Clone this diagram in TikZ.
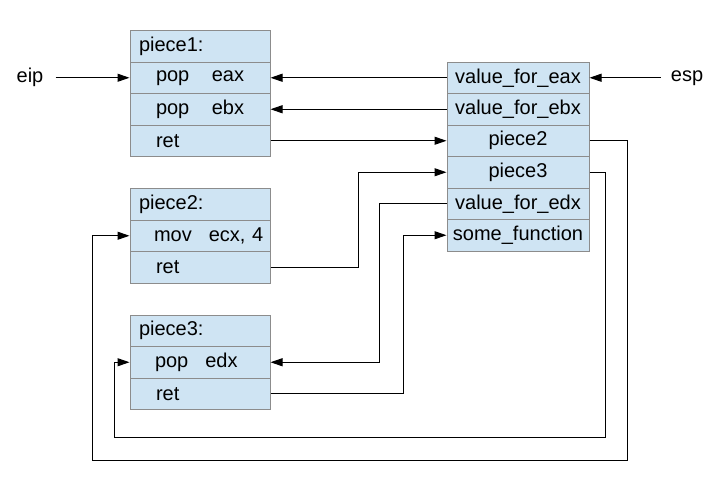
\documentclass[tikz,border=0pt]{standalone}
\usepackage{fontspec}
\setmainfont{Liberation Sans}
\usetikzlibrary{arrows.meta}
\definecolor{cellfill}{RGB}{207,228,243}
\definecolor{cellline}{RGB}{140,140,140}
\tikzset{
  cell/.style={draw=cellline, fill=cellfill, line width=1pt, rectangle,
    minimum height=31.5pt, text width=122pt, inner xsep=9pt, inner ysep=0pt,
    align=left, font=\fontsize{20}{24}\selectfont},
  scell/.style={draw=cellline, fill=cellfill, line width=1pt, rectangle,
    minimum height=31.5pt, minimum width=142pt, inner sep=0pt,
    align=center, font=\fontsize{20}{24}\selectfont},
  lbl/.style={font=\fontsize{20}{24}\selectfont, inner sep=0pt},
  arr/.style={line width=1pt, -{Triangle[length=12pt,width=8pt]}},
  ln/.style={line width=1pt}
}
\begin{document}
\begin{tikzpicture}[x=1pt,y=-1pt]
\useasboundingbox (0,0) rectangle (720,490);
% piece1 block
\node[cell] (p1h) at (200,46.25) {piece1:};
\node[cell] (p1a) at (200,77.75) {\hspace{17pt}pop\hspace{22.5pt}eax};
\node[cell] (p1b) at (200,109.25) {\hspace{17pt}pop\hspace{22.5pt}ebx};
\node[cell] (p1c) at (200,140.75) {\hspace{17pt}ret};
% piece2 block
\node[cell] (p2h) at (200,204.25) {piece2:};
\node[cell] (p2a) at (200,235.75) {\rlap{\hspace{15pt}mov\hspace{17pt}ecx, 4}};
\node[cell] (p2b) at (200,267.25) {\hspace{17pt}ret};
% piece3 block
\node[cell] (p3h) at (200,330.75) {piece3:};
\node[cell] (p3a) at (200,362.25) {\hspace{16pt}pop\hspace{17pt}edx};
\node[cell] (p3b) at (200,393.75) {\hspace{17pt}ret};
% stack
\node[scell] (seax) at (518,77.75) {value\_for\_eax};
\node[scell] (sebx) at (518,109.25) {value\_for\_ebx};
\node[scell] (sp2) at (518,140.75) {piece2};
\node[scell] (sp3) at (518,172.25) {piece3};
\node[scell] (sedx) at (518,203.75) {value\_for\_edx};
\node[scell] (sfun) at (518,235.25) {some\_function};
% labels
\node[lbl] (eip) at (30,77.75) {eip};
\node[lbl] (esp) at (687,77.75) {esp};
% connectors
\draw[arr, shorten <=12pt] (eip.east) -- (p1a.west);
\draw[arr, shorten <=10pt] (esp.west) -- (seax.east);
\draw[arr] (seax.west) -- (p1a.east);
\draw[arr] (sebx.west) -- (p1b.east);
\draw[arr] (p1c.east) -- (sp2.west);
\draw[arr] (p2b.east) -- ++(88,0) |- (sp3.west);
\draw[arr] (sedx.west) -- ++(-67,0) |- (p3a.east);
\draw[arr] (p3b.east) -- ++(133,0) |- (sfun.west);
\draw[arr] (sp2.east) -| (627,460) -| ([xshift=-37pt]p2a.west) -- (p2a.west);
\draw[arr] (sp3.east) -| (605,437) -| ([xshift=-15pt]p3a.west) -- (p3a.west);
\end{tikzpicture}
\end{document}
